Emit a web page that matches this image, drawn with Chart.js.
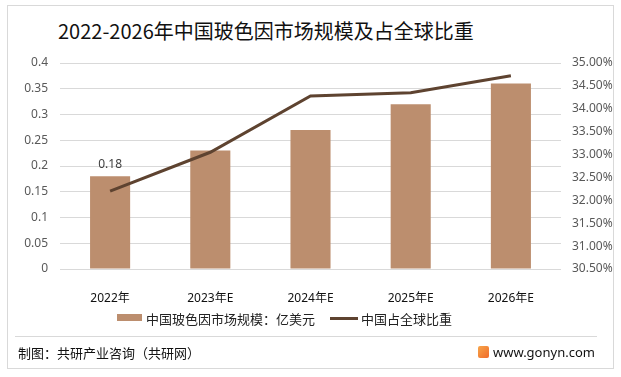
<!DOCTYPE html>
<html lang="zh">
<head>
<meta charset="UTF-8">
<title>2022-2026年中国玻色因市场规模及占全球比重</title>
<script src="https://cdn.jsdelivr.net/npm/chart.js"></script>
<style>
  body { margin: 0; background: #fff; font-family: "Noto Sans", "Noto Sans CJK SC", sans-serif; }
  #wrap { position: relative; width: 621px; height: 377px; overflow: hidden; }
  #frame { position: absolute; left: 7px; top: 5px; width: 605px; height: 362px; border: 1px solid #d9d9d9; }
  #title { position: absolute; left: 58px; top: 16px; font-size: 20px; color: #111; font-family: "Noto Sans CJK SC", sans-serif; white-space: nowrap; }
  #sep { position: absolute; left: 15px; top: 336px; width: 582px; border-top: 1px solid #d9d9d9; }
  #src { position: absolute; left: 18px; top: 343px; font-size: 13px; color: #111; font-family: "Noto Sans CJK SC", sans-serif; }
  #site { position: absolute; left: 493px; top: 343px; font-size: 13px; color: #111; }
  #logo { position: absolute; left: 478px; top: 346px; width: 11px; height: 12px; border-radius: 2px;
          background: linear-gradient(135deg, #f7a64a, #f06a2a); }
  #legend { position: absolute; top: 309px; left: 0; width: 621px; font-size: 13px; color: #222; font-family: "Noto Sans CJK SC", sans-serif; }
  .sw { position: absolute; }
  .lt { position: absolute; top: 0; white-space: nowrap; }
  canvas { position: absolute; left: 0; top: 0; }
</style>
</head>
<body>
<div id="wrap">
  <div id="frame"></div>
  <div id="title">2022-2026年中国玻色因市场规模及占全球比重</div>
  <canvas id="chart" width="621" height="377"></canvas>
  <div id="legend">
    <div class="sw" style="left:117px;top:5px;width:25px;height:7px;background:#BC8E6E"></div>
    <div class="lt" style="left:146px">中国玻色因市场规模：亿美元</div>
    <div class="sw" style="left:330px;top:8px;width:28px;height:3px;background:#5E4330"></div>
    <div class="lt" style="left:361px">中国占全球比重</div>
  </div>
  <div id="sep"></div>
  <div id="src">制图：共研产业咨询（共研网）</div>
  <div id="logo"></div>
  <div id="site">www.gonyn.com</div>
</div>
<script>
const years = ["2022年", "2023年E", "2024年E", "2025年E", "2026年E"];
const marketSize = [0.18, 0.23, 0.27, 0.32, 0.36];
const globalShare = [32.2, 33.05, 34.28, 34.35, 34.72];
const labelledBars = [0];

// 只给第一根柱子标数值
const barLabels = {
  id: "barLabels",
  afterDatasetsDraw(chart) {
    const ctx = chart.ctx;
    const meta = chart.getDatasetMeta(1);
    ctx.save();
    ctx.font = "12px 'Noto Sans', sans-serif";
    ctx.fillStyle = "#404040";
    ctx.textAlign = "center";
    ctx.textBaseline = "bottom";
    labelledBars.forEach(i => {
      const el = meta.data[i];
      ctx.fillText(marketSize[i].toFixed(2), el.x, el.y - 6);
    });
    ctx.restore();
  }
};

new Chart(document.getElementById("chart"), {
  data: {
    labels: years,
    datasets: [
      {
        type: "line",
        label: "中国占全球比重",
        data: globalShare,
        yAxisID: "y1",
        borderColor: "#5E4330",
        backgroundColor: "#5E4330",
        borderWidth: 3,
        pointRadius: 0,
        tension: 0,
        order: 0
      },
      {
        type: "bar",
        label: "中国玻色因市场规模：亿美元",
        data: marketSize,
        yAxisID: "y",
        backgroundColor: "#BC8E6E",
        barPercentage: 0.4,
        categoryPercentage: 1,
        order: 1
      }
    ]
  },
  options: {
    responsive: false,
    animation: false,
    layout: { padding: { top: 63, bottom: 68, left: 0, right: 0 } },
    plugins: { legend: { display: false }, tooltip: { enabled: false } },
    scales: {
      x: {
        grid: { display: false },
        border: { display: false },
        ticks: { color: "#111", font: { size: 12, family: "'Noto Sans', 'Noto Sans CJK SC', sans-serif" }, padding: 14 },
        afterFit(s) { s.height = 40; }
      },
      y: {
        position: "left",
        min: 0, max: 0.4,
        grid: { color: "#d9d9d9", drawTicks: false },
        border: { display: false },
        ticks: {
          stepSize: 0.05, padding: 12, color: "#595959",
          font: { size: 12, family: "'Noto Sans', sans-serif" },
          callback: v => +v.toFixed(2)
        },
        afterFit(s) { s.width = 60; }
      },
      y1: {
        position: "right",
        min: 30.5, max: 35,
        grid: { display: false, drawTicks: false },
        border: { display: false },
        ticks: {
          stepSize: 0.5, padding: 11, color: "#595959",
          font: { size: 12, family: "'Noto Sans', sans-serif" },
          callback: v => v.toFixed(2) + "%"
        },
        afterFit(s) { s.width = 60; }
      }
    }
  },
  plugins: [barLabels]
});
</script>
</body>
</html>
